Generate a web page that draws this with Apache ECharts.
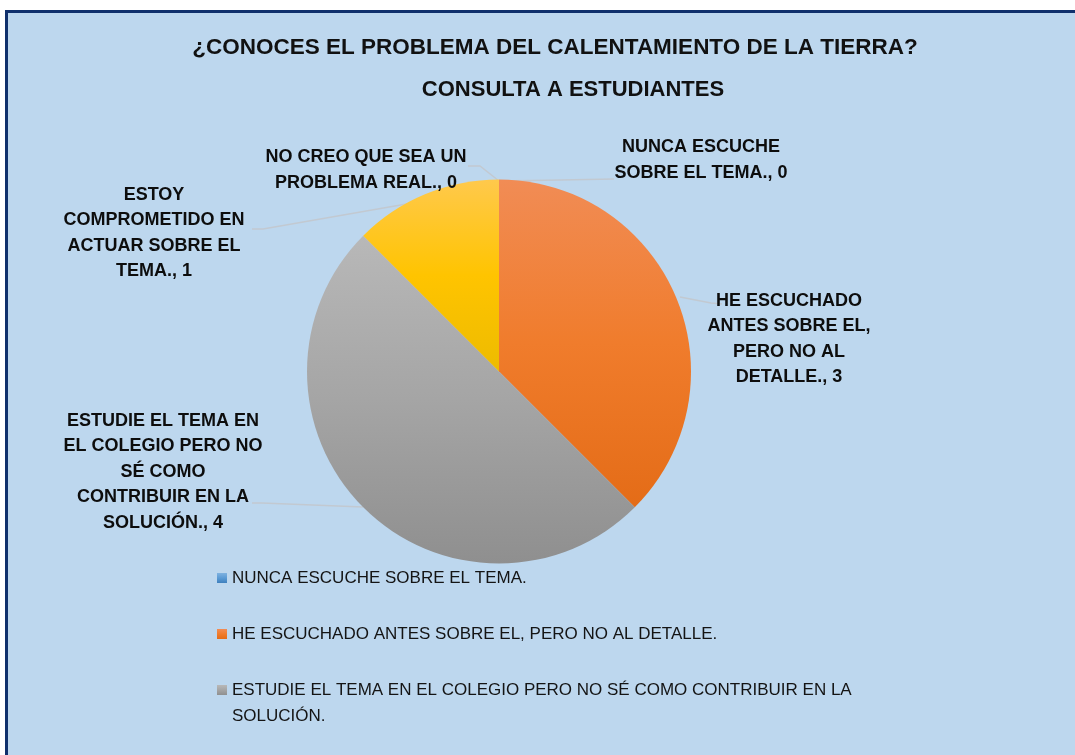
<!DOCTYPE html>
<html lang="es">
<head>
    <meta charset="UTF-8">
    <title>¿Conoces el problema del calentamiento de la tierra?</title>
    <style type="text/css">
        html, body { margin: 0; padding: 0; background: #ffffff; }
        #main { width: 1075px; height: 755px; }
    </style>
    <script src="https://cdn.jsdelivr.net/npm/echarts@6/dist/echarts.min.js"></script>
</head>
<body>
    <div id="main"></div>
    <script type="text/javascript">
        // datos de la encuesta
        var categories = [
            'NUNCA ESCUCHE SOBRE EL TEMA.',
            'HE ESCUCHADO ANTES SOBRE EL, PERO NO AL DETALLE.',
            'ESTUDIE EL TEMA EN EL COLEGIO PERO NO SÉ COMO CONTRIBUIR EN LA SOLUCIÓN.',
            'ESTOY COMPROMETIDO EN ACTUAR SOBRE EL TEMA.',
            'NO CREO QUE SEA UN PROBLEMA REAL.'
        ];
        var values = [0, 3, 4, 1, 0];
        var legendNames = categories.slice(0, 3);

        // estilos (no son datos)
        var FONT = "'Liberation Sans', Arial, sans-serif";
        var gradients = [
            ['#7FB2E0', '#5B9BD5', '#3F80BD'],
            ['#F18C55', '#F07C2C', '#E46C17'],
            ['#B8B8B8', '#A5A5A5', '#8F8F8F'],
            ['#FFC94C', '#FFC400', '#EDBB00'],
            ['#6A8FD6', '#4472C4', '#3560AE']
        ];
        // cortes de línea de cada etiqueta (después de la palabra n)
        var labelBreaks = [[2], [2, 5, 8], [4, 8, 10, 13], [1, 3, 6], [5]];
        var labelPos = [[701, 160], [789, 339], [163, 472], [154, 233], [366, 170]];
        var linePts = [
            [[499, 181], [560, 180], [614, 179]],
            [[680, 297], [711, 303], [722, 304]],
            [[363, 507], [262, 503], [252, 503]],
            [[458, 195], [263, 229], [252, 229]],
            [[499, 181], [480, 166], [468, 166]]
        ];

        function grad(c) {
            return new echarts.graphic.LinearGradient(0, 0, 0, 1, [
                { offset: 0, color: c[0] },
                { offset: 0.5, color: c[1] },
                { offset: 1, color: c[2] }
            ]);
        }

        function wrapLabel(text, breaks) {
            var words = text.split(' ');
            var out = '';
            for (var w = 0; w < words.length; w++) {
                if (w > 0) out += breaks.indexOf(w) >= 0 ? '\n' : ' ';
                out += words[w];
            }
            return out;
        }

        var pieData = [];
        for (var i = 0; i < categories.length; i++) {
            pieData.push({
                name: categories[i],
                value: values[i],
                itemStyle: { color: grad(gradients[i]) }
            });
        }

        var legendText = {
            fontFamily: FONT,
            fontSize: 17,
            color: '#141414',
            lineHeight: 26
        };

        var myChart = echarts.init(document.getElementById('main'), null, { renderer: 'canvas' });
        var option = {
            backgroundColor: '#ffffff',
            animation: false,
            graphic: [{
                type: 'rect',
                z: -10,
                shape: { x: 6.5, y: 11.5, width: 1100, height: 800 },
                style: { fill: '#BDD7EE', stroke: '#10306C', lineWidth: 3 }
            }],
            title: [{
                text: '¿CONOCES EL PROBLEMA DEL CALENTAMIENTO DE LA TIERRA?',
                left: 555, top: 48, padding: 0,
                textAlign: 'center', textVerticalAlign: 'middle',
                textStyle: { fontFamily: FONT, fontSize: 22.5, fontWeight: 'bold', color: '#111111' }
            }, {
                text: 'CONSULTA A ESTUDIANTES',
                left: 573, top: 90, padding: 0,
                textAlign: 'center', textVerticalAlign: 'middle',
                textStyle: { fontFamily: FONT, fontSize: 22, fontWeight: 'bold', color: '#111111' }
            }],
            legend: [{
                orient: 'vertical',
                left: 217, top: 565, padding: 0,
                icon: 'rect',
                itemWidth: 10, itemHeight: 10, itemGap: 30,
                selectedMode: false,
                data: legendNames.slice(0, 2),
                textStyle: legendText
            }, {
                orient: 'vertical',
                left: 217, top: 651, padding: 0,
                icon: 'rect',
                itemWidth: 10, itemHeight: 10,
                selectedMode: false,
                data: [legendNames[2]],
                // línea vacía arriba para que el icono quede junto a la primera línea
                formatter: function (name) { return '\n' + name; },
                textStyle: Object.assign({ width: 660, overflow: 'break' }, legendText)
            }],
            series: [{
                type: 'pie',
                center: [499, 371.5],
                radius: 192,
                startAngle: 90,
                clockwise: true,
                avoidLabelOverlap: false,
                itemStyle: { borderWidth: 0 },
                label: {
                    show: true,
                    position: 'outside',
                    formatter: function (p) {
                        return wrapLabel(p.name + ', ' + p.value, labelBreaks[p.dataIndex]);
                    },
                    fontFamily: FONT,
                    fontSize: 18,
                    fontWeight: 'bold',
                    color: '#0D0D0D',
                    lineHeight: 25.5,
                    align: 'center'
                },
                labelLine: {
                    show: true,
                    lineStyle: { color: '#C2C9D1', width: 1.5 }
                },
                labelLayout: function (params) {
                    var k = params.dataIndex;
                    return {
                        x: labelPos[k][0],
                        y: labelPos[k][1],
                        align: 'center',
                        verticalAlign: 'middle',
                        labelLinePoints: linePts[k]
                    };
                },
                data: pieData
            }]
        };
        myChart.setOption(option);
    </script>
</body>
</html>
